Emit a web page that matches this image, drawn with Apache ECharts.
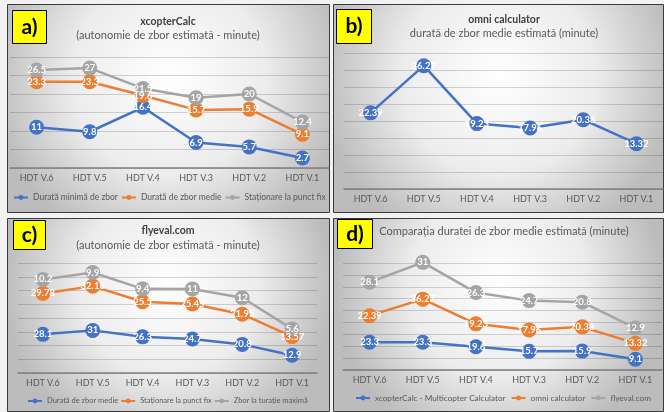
<!DOCTYPE html>
<html>
<head>
<meta charset="utf-8">
<script src="https://cdn.jsdelivr.net/npm/echarts@6/dist/echarts.min.js"></script>
<style>
  html, body { margin: 0; padding: 0; background: #f2f2f2; }
  #main { width: 664px; height: 412px; }
</style>
</head>
<body>
<div id="main"></div>
<script>
// categorii si valori (minute)
var categories = ['HDT V.6', 'HDT V.5', 'HDT V.4', 'HDT V.3', 'HDT V.2', 'HDT V.1'];

var xcopterMin   = [11, 9.8, 16.4, 6.9, 5.7, 2.7];
var xcopterMedie = [23.3, 23.3, 19.6, 15.7, 15.9, 9.1];
var xcopterFix   = [26.5, 27, 21.5, 19, 20, 12.4];

var omniMedie    = [22.39, 36.27, 19.23, 17.96, 20.38, 13.32];

var flyevalMedie = [28.1, 31, 26.3, 24.7, 20.8, 12.9];
var flyevalFix   = [29.78, 32.18, 25.5, 25.45, 21.95, 13.57];
var flyevalMax   = [10.2, 9.9, 9.4, 11, 12, 5.6];

var legendA = ['Durată minimă de zbor', 'Durată de zbor medie', 'Staționare la punct fix'];
var legendC = ['Durată de zbor medie', 'Staționare la punct fix', 'Zbor la turație maximă'];
var legendD = ['xcopterCalc - Multicopter Calculator', 'omni calculator', 'flyeval.com'];

var BLUE = '#4472c4', ORANGE = '#ed7d31', GRAY = '#a5a5a5';
var FONT = 'Lato';

// nume unice pe serie, textul afisat vine din legend formatter
var names = {
  a0: legendA[0], a1: legendA[1], a2: legendA[2],
  b0: 'omni calculator',
  c0: legendC[0], c1: legendC[1], c2: legendC[2],
  d0: legendD[0], d1: legendD[1], d2: legendD[2]
};

var chart = echarts.init(document.getElementById('main'));

function panelBg(x, y, w, h) {
  return {
    type: 'rect', z: -10, silent: true,
    shape: { x: x, y: y, width: w, height: h },
    style: {
      fill: {
        type: 'radial', x: 0.5, y: 0.35, r: 0.85,
        colorStops: [{ offset: 0, color: '#ffffff' }, { offset: 0.55, color: '#ececec' }, { offset: 1, color: '#bcbcbc' }]
      },
      stroke: '#3a3a3a', lineWidth: 1
    }
  };
}
function tag(x, y, w, h, txt) {
  return [
    { type: 'rect', z: 50, shape: { x: x, y: y, width: w, height: h }, style: { fill: '#ffff00', stroke: '#000', lineWidth: 1 } },
    { type: 'text', z: 51, x: x + w / 2, y: y + h / 2, style: { text: txt, fill: '#000', font: 'bold 21px Lato', align: 'center', verticalAlign: 'middle' } }
  ];
}

function line(name, data, color, idx, stack) {
  return {
    name: name, type: 'line', xAxisIndex: idx, yAxisIndex: idx, data: data,
    stack: stack, symbol: 'circle', symbolSize: 15, clip: false,
    lineStyle: { color: color, width: 2.5 },
    itemStyle: { color: color },
    label: { show: true, position: 'inside', color: '#fff', fontSize: 9.5, fontWeight: 'bold', fontFamily: FONT },
    labelLayout: { hideOverlap: false },
    animation: false
  };
}

function legend(keys, left, top, gap, fs) {
  return {
    data: keys, left: left, top: top, width: 640, orient: 'horizontal',
    itemGap: gap, itemWidth: 14, itemHeight: 6, padding: 0,
    formatter: function (n) { return names[n]; },
    textStyle: { fontSize: fs, color: '#595959', fontFamily: FONT }
  };
}

var grids = [
  { left: 10, top: 57, width: 319, height: 111 },
  { left: 344, top: 53, width: 319, height: 136 },
  { left: 18, top: 263, width: 299, height: 110 },
  { left: 343, top: 263, width: 319, height: 107 }
];
var yRange = [[30, 5], [40, 5], [80, 10], [90, 10]];

var titleMain = { fontSize: 10.5, fontWeight: 'bold', color: '#404040', fontFamily: FONT };
var titleSub = { fontSize: 11, color: '#595959', fontFamily: FONT };

var option = {
  textStyle: { fontFamily: FONT },
  graphic: [
    panelBg(7.5, 4.5, 322, 208),
    panelBg(333.5, 4.5, 330, 208),
    panelBg(7.5, 218.5, 322, 193),
    panelBg(333.5, 218.5, 330, 193)
  ].concat(tag(12.5, 10.5, 34, 33, 'a)'), tag(336.5, 9.5, 35, 34, 'b)'),
           tag(13.5, 220.5, 32, 29, 'c)'), tag(337.5, 219.5, 35, 29, 'd)')),
  title: [
    { text: 'xcopterCalc', subtext: '(autonomie de zbor estimată - minute)', left: 168, top: 16, padding: 0, textAlign: 'center', itemGap: 3,
      textStyle: titleMain, subtextStyle: titleSub },
    { text: 'omni calculator', subtext: 'durată de zbor medie estimată (minute)', left: 504, top: 14, padding: 0, textAlign: 'center', itemGap: 3,
      textStyle: titleMain, subtextStyle: titleSub },
    { text: 'flyeval.com', subtext: '(autonomie de zbor estimată - minute)', left: 168, top: 225, padding: 0, textAlign: 'center', itemGap: 4,
      textStyle: titleMain, subtextStyle: titleSub },
    { text: 'Comparația duratei de zbor medie estimată (minute)', left: 504, top: 226, padding: 0, textAlign: 'center',
      textStyle: { fontSize: 11, fontWeight: 'normal', color: '#595959', fontFamily: FONT } }
  ],
  legend: [
    legend(['a0', 'a1', 'a2'], 13, 193, 3, 8.5),
    legend(['c0', 'c1', 'c2'], 27, 397, 2, 7.5),
    legend(['d0', 'd1', 'd2'], 355, 394, 5, 8.2)
  ],
  grid: grids,
  xAxis: grids.map(function (g, i) {
    return {
      type: 'category', gridIndex: i, data: categories, boundaryGap: true,
      axisLine: { lineStyle: { color: '#7f7f7f', width: 1.5 } },
      axisTick: { show: false },
      axisLabel: { color: '#595959', fontSize: 9, margin: 6, fontFamily: FONT }
    };
  }),
  yAxis: yRange.map(function (r, i) {
    return {
      type: 'value', gridIndex: i, min: 0, max: r[0], interval: r[1],
      axisLabel: { show: false }, axisLine: { show: false }, axisTick: { show: false },
      splitLine: { lineStyle: { color: 'rgba(0,0,0,0.16)', width: 1 } }
    };
  }),
  series: [
    line('a0', xcopterMin, BLUE, 0),
    line('a1', xcopterMedie, ORANGE, 0),
    line('a2', xcopterFix, GRAY, 0),
    line('b0', omniMedie, BLUE, 1),
    line('c0', flyevalMedie, BLUE, 2, 'c'),
    line('c1', flyevalFix, ORANGE, 2, 'c'),
    line('c2', flyevalMax, GRAY, 2, 'c'),
    line('d0', xcopterMedie, BLUE, 3, 'd'),
    line('d1', omniMedie, ORANGE, 3, 'd'),
    line('d2', flyevalMedie, GRAY, 3, 'd')
  ]
};

chart.setOption(option);
</script>
</body>
</html>
